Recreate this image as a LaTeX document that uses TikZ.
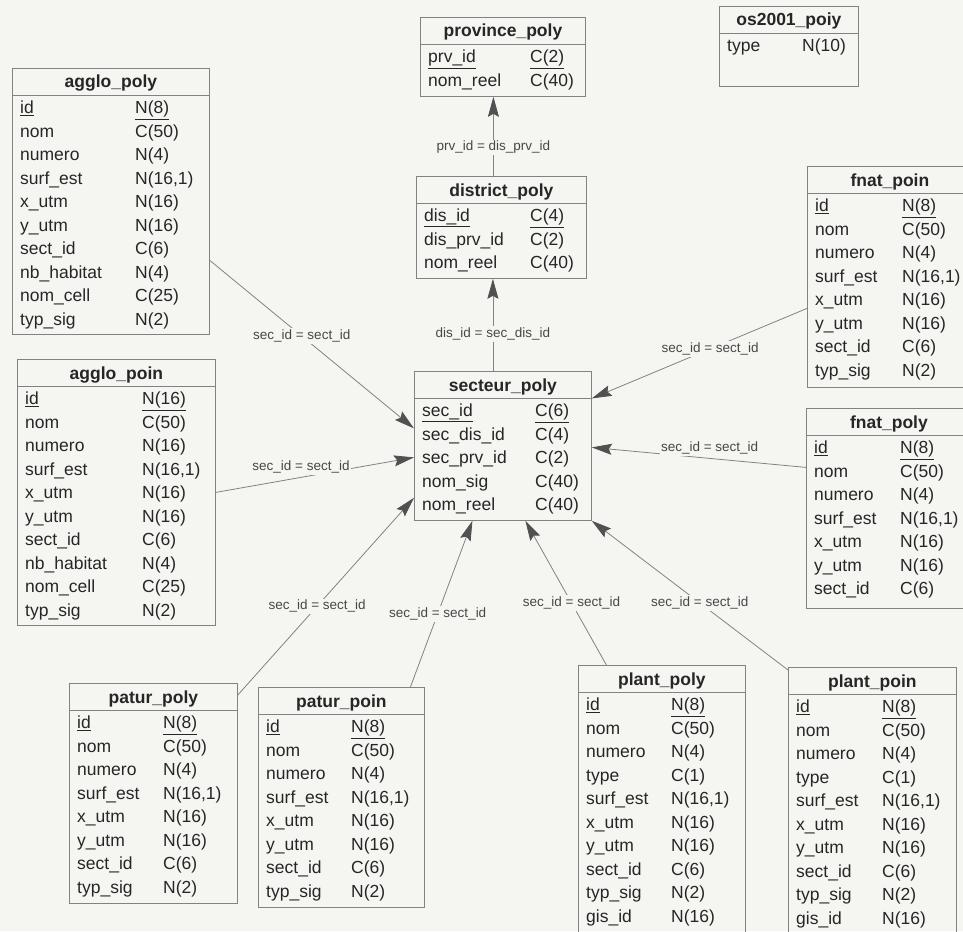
\documentclass[tikz,border=0pt]{standalone}
\usepackage{fontspec}
\setmainfont{Liberation Sans}
\usetikzlibrary{arrows.meta, calc}

\definecolor{bgpaper}{RGB}{245,245,242}
\definecolor{ink}{RGB}{38,38,38}
\definecolor{rulegray}{RGB}{130,130,130}

% table: name, x, y, width, height, title, type column, rows
\newcommand{\ertable}[8]{%
  \node[tbl, minimum width=#4, minimum height=#5] (#1) at (#2,#3) {};
  \node[ttl] at ($(#1.north)+(0,20)$) {#6};
  \draw[tblrule] ($(#1.north west)+(0,27)$) -- ($(#1.north east)+(0,27)$);
  \foreach \fname/\ftype [count=\rowno] in {#8} {
    \node[fld] at ($(#1.north west)+(8,22.3+\rowno*23.5)$) {\fname};
    \node[fld] at ($(#1.north west)+(#7,22.3+\rowno*23.5)$) {\ftype};
  }%
}

\begin{document}
\begin{tikzpicture}[
    x=1pt, y=-1pt,
    tbl/.style={draw=rulegray, line width=0.8pt, anchor=north west, inner sep=0pt},
    tblrule/.style={draw=rulegray, line width=0.8pt},
    ttl/.style={anchor=base, inner sep=0pt, text=ink, font=\fontsize{17.5}{20}\selectfont\bfseries},
    fld/.style={anchor=base west, inner sep=0pt, text=ink, font=\fontsize{17.5}{20}\selectfont},
    lbl/.style={fill=bgpaper, inner sep=1.5pt, text=ink!85, font=\fontsize{13.5}{15}\selectfont},
    arr/.style={draw=rulegray, line width=0.8pt, -{Stealth[length=20pt, width=11pt, inset=3pt, color=ink!80]}}
]
\path[use as bounding box] (0,0) rectangle (963,931);
\fill[bgpaper] (0,0) rectangle (963,931);
\clip (0,0) rectangle (963,931);

\ertable{provincepoly}{420}{17}{165}{79}{province\_poly}{110}{%
  \underline{prv\_id}/\underline{C(2)}, nom\_reel/C(40)}
\ertable{districtpoly}{416}{176}{170}{102}{district\_poly}{114}{%
  \underline{dis\_id}/\underline{C(4)}, dis\_prv\_id/C(2), nom\_reel/C(40)}
\ertable{os2001poiy}{719}{6}{139}{80}{os2001\_poiy}{83}{type/N(10)}
\ertable{secteurpoly}{414}{371}{177}{149}{secteur\_poly}{121}{%
  \underline{sec\_id}/\underline{C(6)}, sec\_dis\_id/C(4), sec\_prv\_id/C(2),
  nom\_sig/C(40), nom\_reel/C(40)}

\ertable{agglopoly}{12}{68}{197}{266}{agglo\_poly}{123}{%
  \underline{id}/\underline{N(8)}, nom/C(50), numero/N(4), surf\_est/N(16{,}1),
  x\_utm/N(16), y\_utm/N(16), sect\_id/C(6), nb\_habitat/N(4),
  nom\_cell/C(25), typ\_sig/N(2)}
\ertable{agglopoin}{17}{359}{198}{266}{agglo\_poin}{125}{%
  \underline{id}/\underline{N(16)}, nom/C(50), numero/N(16), surf\_est/N(16{,}1),
  x\_utm/N(16), y\_utm/N(16), sect\_id/C(6), nb\_habitat/N(4),
  nom\_cell/C(25), typ\_sig/N(2)}

\ertable{fnatpoin}{807}{166}{165}{221}{fnat\_poin}{95}{%
  \underline{id}/\underline{N(8)}, nom/C(50), numero/N(4), surf\_est/N(16{,}1),
  x\_utm/N(16), y\_utm/N(16), sect\_id/C(6), typ\_sig/N(2)}
\ertable{fnatpoly}{806}{408}{165}{200}{fnat\_poly}{94}{%
  \underline{id}/\underline{N(8)}, nom/C(50), numero/N(4), surf\_est/N(16{,}1),
  x\_utm/N(16), y\_utm/N(16), sect\_id/C(6)}

\ertable{paturpoly}{69}{683}{168}{220}{patur\_poly}{94}{%
  \underline{id}/\underline{N(8)}, nom/C(50), numero/N(4), surf\_est/N(16{,}1),
  x\_utm/N(16), y\_utm/N(16), sect\_id/C(6), typ\_sig/N(2)}
\ertable{paturpoin}{258}{687}{166}{220}{patur\_poin}{93}{%
  \underline{id}/\underline{N(8)}, nom/C(50), numero/N(4), surf\_est/N(16{,}1),
  x\_utm/N(16), y\_utm/N(16), sect\_id/C(6), typ\_sig/N(2)}
\ertable{plantpoly}{578}{665}{167}{280}{plant\_poly}{93}{%
  \underline{id}/\underline{N(8)}, nom/C(50), numero/N(4), type/C(1),
  surf\_est/N(16{,}1), x\_utm/N(16), y\_utm/N(16), sect\_id/C(6),
  typ\_sig/N(2), gis\_id/N(16)}
\ertable{plantpoin}{788}{667}{168}{280}{plant\_poin}{94}{%
  \underline{id}/\underline{N(8)}, nom/C(50), numero/N(4), type/C(1),
  surf\_est/N(16{,}1), x\_utm/N(16), y\_utm/N(16), sect\_id/C(6),
  typ\_sig/N(2), gis\_id/N(16)}

% references
\draw[arr] ([xshift=-8pt]districtpoly.north) -- node[lbl, pos=0.36]{prv\_id = dis\_prv\_id}
  ([xshift=-8pt]districtpoly.north |- provincepoly.south);
\draw[arr] ([xshift=-10pt]secteurpoly.north) -- node[lbl, pos=0.4]{dis\_id = sec\_dis\_id}
  ([xshift=-10pt]secteurpoly.north |- districtpoly.south);

\draw[arr] ([yshift=-59pt]agglopoly.east) -- node[lbl, pos=0.45]{sec\_id = sect\_id}
  ([yshift=17.5pt]secteurpoly.west);
\draw[arr] (agglopoin.east) -- node[lbl, above=2pt, pos=0.43]{sec\_id = sect\_id}
  ([yshift=-11.5pt]secteurpoly.west);
\draw[arr] ([yshift=-31.5pt]fnatpoin.west) -- node[lbl, pos=0.45]{sec\_id = sect\_id}
  ([yshift=47.5pt]secteurpoly.east);
\draw[arr] ([yshift=41pt]fnatpoly.west) -- node[lbl, above=2pt, pos=0.45]{sec\_id = sect\_id}
  ([yshift=-1.5pt]secteurpoly.east);

\draw[arr] ([yshift=-12pt]paturpoly.north east) -- node[lbl, pos=0.45]{sec\_id = sect\_id}
  ([yshift=23pt]secteurpoly.south west);
\draw[arr] ([xshift=69pt]paturpoin.north) -- node[lbl, pos=0.44]{sec\_id = sect\_id}
  ([xshift=-30.5pt]secteurpoly.south);
\draw[arr] ([xshift=-55.5pt]plantpoly.north) -- node[lbl, pos=0.43]{sec\_id = sect\_id}
  ([xshift=22.5pt]secteurpoly.south);
\draw[arr] ([yshift=-3pt]plantpoin.north west) -- node[lbl, pos=0.45]{sec\_id = sect\_id}
  (secteurpoly.south east);
\end{tikzpicture}
\end{document}
